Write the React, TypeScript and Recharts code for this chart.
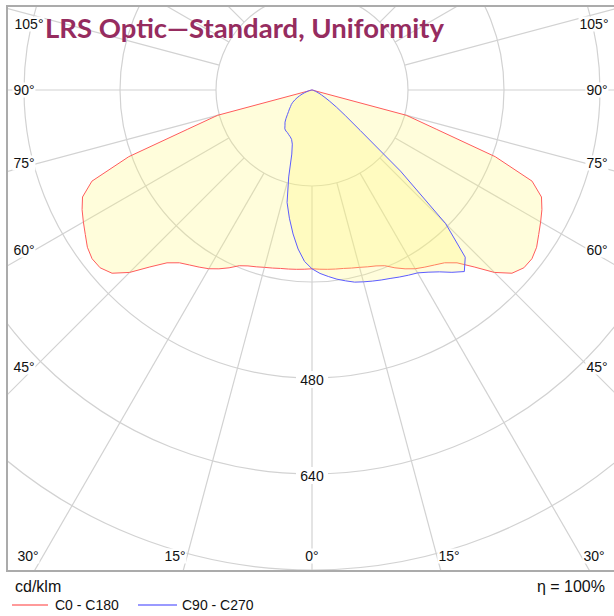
import { PolarAngleAxis, PolarGrid, PolarRadiusAxis, Radar, RadarChart } from "recharts";

// photometric table, gamma 0 (nadir) .. 180 in 2.5° steps
const gammas = Array.from({ length: 73 }, (_, i) => i * 2.5);

// C0 - C180 plane (symmetric), cd/klm
const c0c180 = [
  298, 299, 300, 301, 302, 304, 306, 309, 312, 317, // 0 - 22.5
  327, 336, 344, 350, 356, 363, 376, 400, 430, 452, // 25 - 47.5
  461, 462, 457, 448, 440, 432, 422, 397, 325, 217, // 50 - 72.5
  163, 0, 0, 0, 0, 0, 0, 0, 0, 0, // 75 - 97.5
  0, 0, 0, 0, 0, 0, 0, 0, 0, 0,
  0, 0, 0, 0, 0, 0, 0, 0, 0, 0,
  0, 0, 0, 0, 0, 0, 0, 0, 0, 0,
  0, 0, 0, // 175 - 180
];

// C90 half plane (right side)
const c90 = [
  298, 306, 312, 318, 323, 328, 331, 334, 337, 340,
  344, 348, 352, 360, 370, 383, 395, 378, 315, 200,
  105, 70, 50, 35, 25, 18, 13, 9, 6, 4,
  3, 2, 1, 0, 0, 0, 0, 0, 0, 0,
  0, 0, 0, 0, 0, 0, 0, 0, 0, 0,
  0, 0, 0, 0, 0, 0, 0, 0, 0, 0,
  0, 0, 0, 0, 0, 0, 0, 0, 0, 0,
  0, 0, 0,
];

// C270 half plane (left side)
const c270 = [
  298, 286, 266, 242, 217, 192, 150, 112, 96, 89,
  86, 84, 82, 81, 79, 74, 70, 64, 58, 53,
  49, 45, 42, 38, 33, 28, 23, 18, 13, 9,
  6, 4, 2, 1, 0, 0, 0, 0, 0, 0,
  0, 0, 0, 0, 0, 0, 0, 0, 0, 0,
  0, 0, 0, 0, 0, 0, 0, 0, 0, 0,
  0, 0, 0, 0, 0, 0, 0, 0, 0, 0,
  0, 0, 0,
];

const gridAngles = [0, 15, 30, 45, 60, 75, 90, 105, 120, 135, 150, 165, 180, 195, 210, 225, 240, 255, 270, 285, 300, 315, 330, 345];
const radiusTicks = [160, 320, 480, 640, 800, 960];
const labelledRadii = [480, 640];
const radiusMax = 960;

const angleTicks = [105, 90, 75, 60, 45, 30, 15, 0, 15, 30, 45, 60, 75, 90, 105];
const angleTickPos = [
  [29, 24], [24, 90], [24, 163], [24, 250], [24, 367], [28, 556], [175, 556], [312, 556],
  [449, 556], [594, 556], [597, 367], [597, 250], [597, 163], [597, 90], [594, 24],
];

// position around the diagram: 0 = nadir, 90 = C0/C90 horizontal, 180 = zenith, 270 = other horizontal
const data: Array<{ pos: number; red: number; blue: number }> = [];
gammas.forEach((g, i) => data.push({ pos: g, red: c0c180[i], blue: c90[i] }));
for (let i = gammas.length - 2; i >= 1; i--) {
  data.push({ pos: 360 - gammas[i], red: c0c180[i], blue: c270[i] });
}

const W = 608;
const H = 567;
const CX = 306;
const CY = 85;
const R_OUT = 576;
const R_IN = (160 / radiusMax) * R_OUT;

const START = -90;
const END = 270;

const RadiusTick = (props: any) => {
  const { x, y, payload } = props;
  if (!labelledRadii.includes(payload?.value)) return <g />;
  return (
    <g>
      <rect x={x - 16} y={y - 7} width={32} height={17} fill="#fff" />
      <text x={x} y={y + 2} textAnchor="middle" dominantBaseline="central" fontSize={14} fill="#111" fontFamily="Liberation Sans, Arial">
        {payload.value}
      </text>
    </g>
  );
};

export default function App() {
  return (
    <div
      style={{
        position: "absolute",
        left: 0,
        top: 0,
        width: 614,
        height: 616,
        overflow: "hidden",
        background: "#fff",
        fontFamily: "'Liberation Sans', Arial, sans-serif",
        color: "#111",
      }}
    >
      <div style={{ position: "absolute", left: 6, top: 5, width: W, height: H, overflow: "hidden" }}>
        <div style={{ position: "absolute", left: 0, top: 0 }}>
          <RadarChart width={W} height={H} cx={CX} cy={CY} innerRadius={R_IN} outerRadius={R_OUT} startAngle={START} endAngle={END} data={data} margin={{ top: 0, right: 0, bottom: 0, left: 0 }}>
            <PolarGrid
              gridType="circle"
              stroke="#d2d2d2"
              strokeWidth={1.2}
              polarAngles={gridAngles.map((a) => START + a)}
              polarRadius={radiusTicks.map((v) => (v / radiusMax) * R_OUT)}
            />
            <PolarAngleAxis dataKey="pos" type="number" domain={[0, 360]} tick={false} axisLine={false} />
            <PolarRadiusAxis type="number" domain={[0, radiusMax]} tick={false} axisLine={false} />
          </RadarChart>
        </div>
        <div style={{ position: "absolute", left: 0, top: 0 }}>
          <RadarChart width={W} height={H} cx={CX} cy={CY} innerRadius={0} outerRadius={R_OUT} startAngle={START} endAngle={END} data={data} margin={{ top: 0, right: 0, bottom: 0, left: 0 }}>
            <PolarAngleAxis dataKey="pos" type="number" domain={[0, 360]} tick={false} axisLine={false} />
            <Radar dataKey="red" name="C0 - C180" stroke="#ff5c5c" strokeWidth={1} fill="#fff870" fillOpacity={0.25} isAnimationActive={false} />
            <Radar dataKey="blue" name="C90 - C270" stroke="#5c5cff" strokeWidth={1} fill="#fff870" fillOpacity={0.25} isAnimationActive={false} />
            <PolarRadiusAxis
              type="number"
              angle={-90}
              orientation="middle"
              domain={[0, radiusMax]}
              ticks={labelledRadii as any}
              tickCount={7}
              tick={<RadiusTick />}
              axisLine={false}
              tickLine={false}
            />
          </RadarChart>
        </div>
      </div>
      <div
        style={{
          position: "absolute",
          left: 6,
          top: 5,
          width: 620,
          height: 567,
          boxSizing: "border-box",
          border: "2px solid #ababab",
          pointerEvents: "none",
        }}
      />
      {angleTicks.map((t, i) => (
        <div
          key={i}
          style={{
            position: "absolute",
            left: angleTickPos[i][0],
            top: angleTickPos[i][1],
            transform: "translate(-50%, -50%)",
            fontSize: 14,
            lineHeight: "15px",
            background: "#fff",
            padding: "0 1px",
            whiteSpace: "nowrap",
          }}
        >
          {t}°
        </div>
      ))}
      <div
        style={{
          position: "absolute",
          left: 45,
          top: 11,
          fontFamily: "Lato, 'Open Sans', sans-serif",
          fontWeight: 700,
          fontSize: 27.5,
          color: "#962c5f",
          whiteSpace: "nowrap",
        }}
      >
        LRS Optic—Standard, Uniformity
      </div>
      <div style={{ position: "absolute", left: 15, top: 578, fontSize: 16 }}>cd/klm</div>
      <div style={{ position: "absolute", right: 9, top: 578, fontSize: 16 }}>η = 100%</div>
      <div style={{ position: "absolute", left: 12, top: 604, width: 36, height: 2, background: "#ff9a9a" }} />
      <div style={{ position: "absolute", left: 55, top: 597, fontSize: 14, lineHeight: "16px" }}>C0 - C180</div>
      <div style={{ position: "absolute", left: 138, top: 604, width: 39, height: 2, background: "#9a9aff" }} />
      <div style={{ position: "absolute", left: 182, top: 597, fontSize: 14, lineHeight: "16px" }}>C90 - C270</div>
    </div>
  );
}
